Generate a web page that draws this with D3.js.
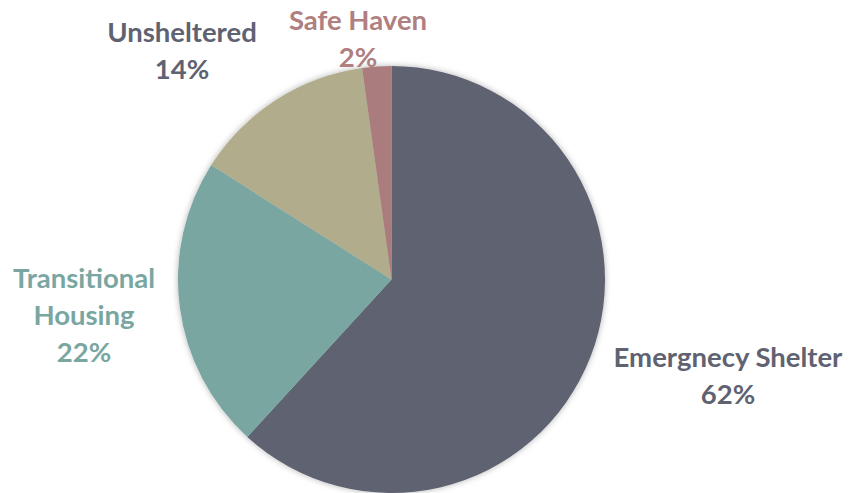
<!DOCTYPE html>
<html>
<head>
<meta charset="utf-8">
<script src="https://cdn.jsdelivr.net/npm/d3@7"></script>
<style>
  body { margin: 0; background: #fff; }
  svg { display: block; }
  text { font-family: Lato, "Open Sans", sans-serif; font-weight: bold; }
</style>
</head>
<body>
<svg id="chart" width="851" height="493"></svg>
<script>
// shares (percent), clockwise from 12 o'clock
const categories = ["Emergnecy Shelter", "Transitional Housing", "Unsheltered", "Safe Haven"];
const shares = [61.8, 22.2, 13.8, 2.2];
const labelLines = [["Emergnecy Shelter"], ["Transitional", "Housing"], ["Unsheltered"], ["Safe Haven"]];
const sliceColors = ["#5f6271", "#7aa6a1", "#b1ac8c", "#ab7c7d"];
const textColors = ["#5f6271", "#7aa6a1", "#5f6271", "#b07f80"];

const svg = d3.select("#chart");
const cx = 391.5, cy = 279.5, radius = 213.5;

const defs = svg.append("defs");
const shadow = defs.append("filter").attr("id", "pie-shadow")
  .attr("x", "-10%").attr("y", "-10%").attr("width", "120%").attr("height", "120%");
shadow.append("feDropShadow")
  .attr("dx", 0).attr("dy", 0).attr("stdDeviation", 3)
  .attr("flood-color", "#000").attr("flood-opacity", 0.3);

const data = categories.map((c, i) => ({ name: c, value: shares[i], i }));

const pie = d3.pie().sort(null).value(d => d.value);
const arc = d3.arc().innerRadius(0).outerRadius(radius);
const arcs = pie(data);

const g = svg.append("g").attr("transform", `translate(${cx},${cy})`);

g.append("g").attr("filter", "url(#pie-shadow)")
  .selectAll("path")
  .data(arcs)
  .enter().append("path")
    .attr("d", arc)
    .attr("fill", d => sliceColors[d.data.i]);

// label anchor points (center of text block, first baseline), set by hand per slice
const labelPos = [
  { x: 728, y: 367 },
  { x: 84, y: 288 },
  { x: 182, y: 42 },
  { x: 358, y: 30 }
];
const lineH = 37;

const labels = svg.append("g").selectAll("text")
  .data(arcs)
  .enter().append("text")
    .attr("text-anchor", "middle")
    .attr("font-size", 27.5)
    .attr("fill", d => textColors[d.data.i])
    .attr("x", d => labelPos[d.data.i].x)
    .attr("y", d => labelPos[d.data.i].y);

labels.each(function(d) {
  const t = d3.select(this);
  const lines = labelLines[d.data.i].concat([Math.round(d.data.value) + "%"]);
  lines.forEach((ln, k) => {
    t.append("tspan")
      .attr("x", labelPos[d.data.i].x)
      .attr("dy", k === 0 ? 0 : lineH)
      .text(ln);
  });
});
</script>
</body>
</html>
